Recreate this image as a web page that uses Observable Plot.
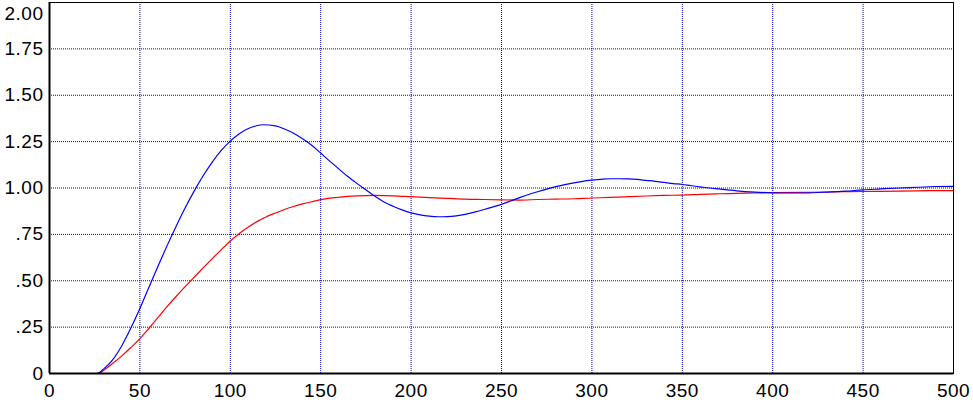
<!DOCTYPE html>
<html>
<head>
<meta charset="utf-8">
<script src="https://cdn.jsdelivr.net/npm/d3@7"></script>
<script src="https://cdn.jsdelivr.net/npm/@observablehq/plot@0.6"></script>
<style>
  html, body { margin: 0; padding: 0; background: #ffffff; }
  #chart svg { display: block; }
  #chart svg text { letter-spacing: 0.5px; }
</style>
</head>
<body>
<div id="chart"></div>
<script>
// Time axis samples
const blueX = [0, 26, 30, 35, 40, 45, 50, 55, 60, 65, 70, 75, 80, 85, 90, 95, 100, 105, 110, 115, 118, 125, 130, 135, 140, 145, 150, 155, 160, 165, 170, 175, 180, 185, 190, 195, 200, 205, 210, 215, 220, 225, 230, 235, 240, 245, 250, 255, 260, 265, 270, 275, 280, 285, 290, 295, 300, 305, 310, 315, 320, 325, 330, 335, 340, 345, 350, 355, 360, 365, 370, 375, 380, 390, 400, 410, 420, 430, 440, 450, 460, 470, 480, 490, 500];
const blueY = [0, 0, 0.025, 0.075, 0.15, 0.245, 0.35, 0.465, 0.578, 0.688, 0.793, 0.892, 0.983, 1.066, 1.14, 1.203, 1.253, 1.293, 1.321, 1.337, 1.341, 1.335, 1.318, 1.295, 1.265, 1.23, 1.188, 1.145, 1.103, 1.062, 1.025, 0.99, 0.955, 0.925, 0.902, 0.882, 0.866, 0.855, 0.848, 0.845, 0.846, 0.85, 0.858, 0.87, 0.883, 0.897, 0.912, 0.93, 0.948, 0.965, 0.98, 0.994, 1.007, 1.018, 1.028, 1.036, 1.042, 1.047, 1.05, 1.05, 1.049, 1.046, 1.041, 1.036, 1.03, 1.024, 1.019, 1.012, 1.006, 1.0, 0.995, 0.99, 0.985, 0.978, 0.974, 0.973, 0.974, 0.978, 0.983, 0.99, 0.995, 1.0, 1.004, 1.008, 1.009];

const redX = [0, 27, 30, 35, 40, 45, 50, 55, 60, 65, 70, 75, 80, 85, 90, 95, 100, 105, 110, 115, 120, 125, 130, 135, 140, 145, 150, 155, 160, 165, 170, 180, 190, 200, 210, 220, 230, 240, 250, 260, 270, 280, 290, 300, 310, 320, 330, 340, 350, 360, 370, 380, 390, 400, 420, 440, 460, 480, 500];
const redY = [0, 0, 0.018, 0.055, 0.095, 0.14, 0.188, 0.244, 0.302, 0.36, 0.415, 0.468, 0.519, 0.569, 0.619, 0.667, 0.714, 0.755, 0.79, 0.82, 0.845, 0.865, 0.884, 0.9, 0.914, 0.926, 0.937, 0.945, 0.95, 0.955, 0.958, 0.96, 0.958, 0.953, 0.948, 0.944, 0.94, 0.938, 0.936, 0.935, 0.938, 0.94, 0.942, 0.946, 0.949, 0.953, 0.957, 0.96, 0.962, 0.966, 0.969, 0.971, 0.973, 0.975, 0.977, 0.98, 0.982, 0.985, 0.986];

const xTicks = [0, 50, 100, 150, 200, 250, 300, 350, 400, 450, 500];
const yTicks = [0, 0.25, 0.5, 0.75, 1.0, 1.25, 1.5, 1.75];
const yTopTick = [2.0];
const yTickLabels = {0: "0", 0.25: ".25", 0.5: ".50", 0.75: ".75", 1: "1.00", 1.25: "1.25", 1.5: "1.50", 1.75: "1.75", 2: "2.00"};

const blue = blueX.map((x, i) => ({x, y: blueY[i]}));
const red = redX.map((x, i) => ({x, y: redY[i]}));

const gridColor = "#0000c8";

const chart = Plot.plot({
  width: 973,
  height: 404,
  marginLeft: 49,
  marginRight: 20,
  marginTop: 2,
  marginBottom: 31,
  style: {fontFamily: "'Liberation Sans', Arial, sans-serif", fontSize: "19px", color: "#000", background: "#fff"},
  x: {domain: [0, 500]},
  y: {domain: [0, 2]},
  marks: [
    Plot.gridX(xTicks.filter(d => d > 0 && d < 500), {stroke: gridColor, strokeOpacity: 1, strokeDasharray: "1,1"}),
    Plot.gridY(yTicks.filter(d => d > 0), {stroke: gridColor, strokeOpacity: 1, strokeDasharray: "1,1"}),
    Plot.axisX(xTicks, {tickSize: 0, tickPadding: 10, label: null, tickFormat: d => String(d), fill: "#000"}),
    Plot.axisY(yTicks, {tickSize: 0, tickPadding: 6, label: null, tickFormat: d => yTickLabels[d], fill: "#000"}),
    Plot.axisY(yTopTick, {tickSize: 0, tickPadding: 6, label: null, tickFormat: d => yTickLabels[d], dy: 11, fill: "#000"}),
    Plot.line(red, {x: "x", y: "y", stroke: "#ff0000", strokeWidth: 1.2, curve: "monotone-x"}),
    Plot.line(blue, {x: "x", y: "y", stroke: "#0000ff", strokeWidth: 1.2, curve: "monotone-x"}),
    Plot.frame({stroke: "#000", strokeWidth: 1}),
    Plot.ruleX([0], {stroke: "#000", strokeWidth: 2}),
    Plot.ruleY([0], {stroke: "#000", strokeWidth: 2})
  ]
});
document.getElementById("chart").append(chart);
</script>
</body>
</html>
